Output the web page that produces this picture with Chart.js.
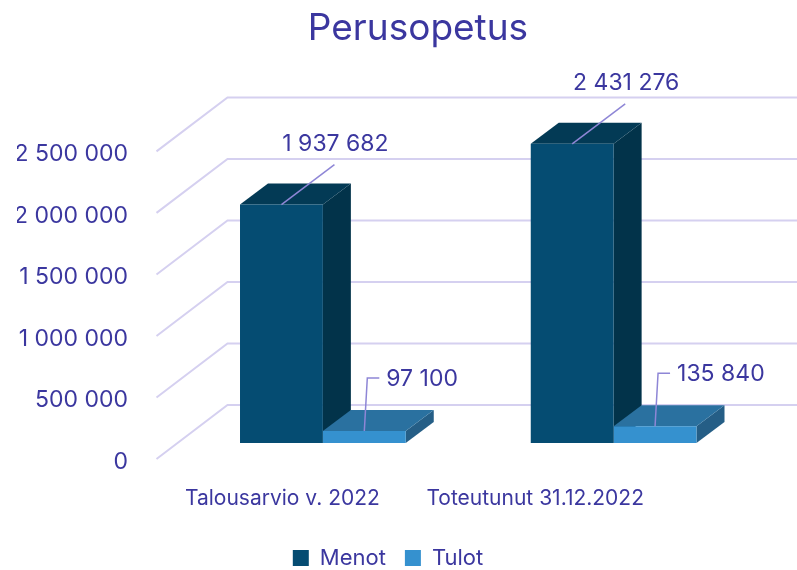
<!DOCTYPE html>
<html lang="fi">
<head>
<meta charset="utf-8">
<title>Perusopetus</title>
<script src="https://cdn.jsdelivr.net/npm/chart.js@4.4.1/dist/chart.umd.min.js"></script>
<style>
  html, body { margin: 0; padding: 0; background: #ffffff; }
  #wrap { width: 797px; height: 570px; position: relative; }
</style>
</head>
<body>
<div id="wrap"><canvas id="chart"></canvas></div>
<script>
// chart data
const categories = ['Talousarvio v. 2022', 'Toteutunut 31.12.2022'];
const seriesNames = ['Menot', 'Tulot'];
const menot = [1937682, 2431276];
const tulot = [97100, 135840];
const yTicks = [0, 500000, 1000000, 1500000, 2000000, 2500000];

// look
const FONT = 'Inter, "Noto Sans", sans-serif';
const TEXT = '#3b379f';
const GRID = '#d5d0f0';
const LEADER = '#8e86d6';
const FRONT = ['#054c72', '#3591cf'];
const TOP = ['#033a55', '#2a71a0'];
const SIDE = ['#02334a', '#255e86'];
const DEPTH = { dx: 28, dy: 21 };       // bar depth
const WALL_FRONT = { dx: -21, dy: 16 }; // floor front edge vs bar plane
const WALL_BACK = { dx: 50, dy: -38 };  // back wall vs bar plane

const fmt = v => String(v).replace(/\B(?=(\d{3})+(?!\d))/g, ' ');

function poly(ctx, pts, color) {
    ctx.beginPath();
    ctx.moveTo(pts[0][0], pts[0][1]);
    for (let i = 1; i < pts.length; i++) ctx.lineTo(pts[i][0], pts[i][1]);
    ctx.closePath();
    ctx.fillStyle = color;
    ctx.fill();
}

const fake3d = {
    id: 'fake3d',
    afterLayout(chart) {
        // title sits a bit right of the legend in the original
        if (chart.titleBlock) chart.titleBlock.left += 60;
    },
    beforeDatasetsDraw(chart) {
        const { ctx, chartArea } = chart;
        const yScale = chart.scales.y;
        ctx.save();
        // walls: slanted floor/side lines and back wall lines
        ctx.strokeStyle = GRID;
        ctx.lineWidth = 2;
        yScale.ticks.forEach(t => {
            const py = yScale.getPixelForValue(t.value);
            ctx.beginPath();
            ctx.moveTo(chartArea.left + WALL_FRONT.dx, py + WALL_FRONT.dy);
            ctx.lineTo(chartArea.left + WALL_BACK.dx, py + WALL_BACK.dy);
            ctx.lineTo(chart.width, py + WALL_BACK.dy);
            ctx.stroke();
        });
        // side and top faces, category by category so overlaps stack right
        chart.data.labels.forEach((_, i) => {
            chart.data.datasets.forEach((ds, d) => {
                const bar = chart.getDatasetMeta(d).data[i];
                const { x, y, base, width } = bar.getProps(['x', 'y', 'base', 'width'], true);
                const l = x - width / 2, r = x + width / 2;
                poly(ctx, [[r, y], [r + DEPTH.dx, y - DEPTH.dy], [r + DEPTH.dx, base - DEPTH.dy], [r, base]], SIDE[d]);
                poly(ctx, [[l, y], [r, y], [r + DEPTH.dx, y - DEPTH.dy], [l + DEPTH.dx, y - DEPTH.dy]], TOP[d]);
            });
        });
        ctx.restore();
    },
    afterDatasetsDraw(chart) {
        const { ctx, chartArea } = chart;
        ctx.save();
        ctx.font = '23px ' + FONT;
        ctx.fillStyle = TEXT;
        ctx.strokeStyle = LEADER;
        ctx.lineWidth = 1.5;
        chart.data.datasets.forEach((ds, d) => {
            chart.getDatasetMeta(d).data.forEach((bar, i) => {
                const { x, y } = bar.getProps(['x', 'y'], true);
                ctx.beginPath();
                ctx.moveTo(x, y);
                if (d === 0) {
                    ctx.lineTo(x + 53, y - 40);
                    ctx.stroke();
                    ctx.textAlign = 'center';
                    ctx.textBaseline = 'middle';
                    ctx.fillText(fmt(ds.data[i]), x + 54, y - 61);
                } else {
                    ctx.lineTo(x + 3, y - 53);
                    ctx.lineTo(x + 15, y - 53);
                    ctx.stroke();
                    ctx.textAlign = 'left';
                    ctx.textBaseline = 'middle';
                    ctx.fillText(fmt(ds.data[i]), x + 22, y - 52);
                }
            });
        });
        // category labels sit on the front edge of the floor, pulled in a bit by perspective
        const xScale = chart.scales.x;
        ctx.font = '21px ' + FONT;
        ctx.textAlign = 'center';
        ctx.textBaseline = 'middle';
        chart.data.labels.forEach((lab, i) => {
            const px = xScale.getPixelForValue(i);
            ctx.fillText(lab, 13 + (px - 13) * 0.8694, chartArea.bottom + 56);
        });
        ctx.restore();
    }
};

const datasets = [menot, tulot].map((vals, d) => ({
    label: seriesNames[d],
    data: vals,
    backgroundColor: FRONT[d],
    borderWidth: 0,
    categoryPercentage: 0.57,
    barPercentage: 1
}));

new Chart(document.getElementById('chart'), {
    type: 'bar',
    data: { labels: categories, datasets: datasets },
    options: {
        responsive: true,
        maintainAspectRatio: false,
        animation: false,
        devicePixelRatio: 1,
        layout: { padding: { left: 17, right: 38, top: 0, bottom: -9 } },
        plugins: {
            title: {
                display: true,
                text: 'Perusopetus',
                color: TEXT,
                font: { family: FONT, size: 37, weight: 'normal' },
                padding: { top: 7, bottom: 84 },
                lineHeight: 1.2
            },
            legend: {
                position: 'bottom',
                labels: {
                    color: TEXT,
                    font: { family: FONT, size: 22 },
                    boxWidth: 16,
                    boxHeight: 16,
                    padding: 19
                }
            },
            tooltip: { enabled: false }
        },
        scales: {
            x: {
                grid: { display: false, drawTicks: false },
                border: { display: false },
                ticks: { display: false },
                afterFit: s => { s.height = 85; }
            },
            y: {
                min: yTicks[0],
                max: yTicks[yTicks.length - 1],
                afterBuildTicks: s => { s.ticks = yTicks.map(v => ({ value: v })); },
                grid: { display: false, drawTicks: false },
                border: { display: false },
                ticks: {
                    color: TEXT,
                    font: { family: FONT, size: 23 },
                    padding: 49.5,
                    labelOffset: 19,
                    callback: v => fmt(v)
                },
                afterFit: s => { s.width = 160.5; }
            }
        }
    },
    plugins: [fake3d]
});
</script>
</body>
</html>
